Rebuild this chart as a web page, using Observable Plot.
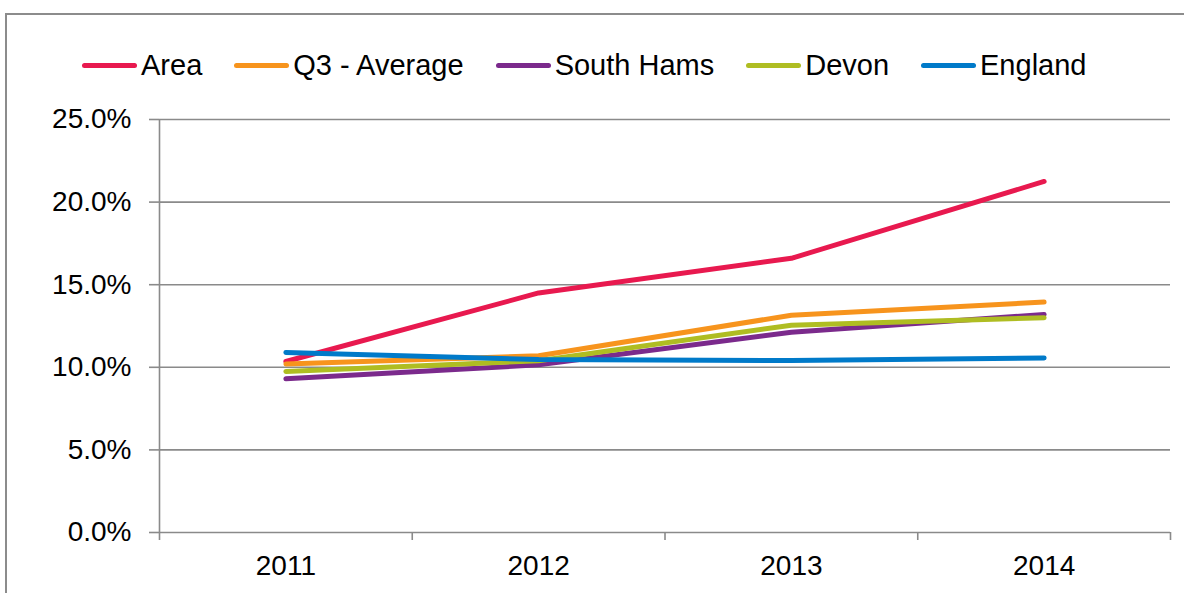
<!DOCTYPE html>
<html>
<head>
<meta charset="utf-8">
<script src="https://cdn.jsdelivr.net/npm/d3@7"></script>
<script src="https://cdn.jsdelivr.net/npm/@observablehq/plot@0.6"></script>
<style>
  html, body { margin: 0; padding: 0; background: #fff; overflow: hidden; }
  body { width: 1184px; height: 593px; position: relative; font-family: "Liberation Sans", Arial, sans-serif; }
  #frame { position: absolute; left: 5px; top: 13px; width: 1400px; height: 800px; border: 2px solid #8c8c8c; box-sizing: border-box; }
  #legend { position: absolute; left: 82px; top: 46px; height: 38px; display: flex; align-items: center; font-size: 29px; color: #000; white-space: nowrap; }
  .item { display: flex; align-items: center; margin-right: 32px; }
  .sw { width: 55px; height: 5px; border-radius: 3px; margin-right: 4px; }
  #chart { position: absolute; left: 0; top: 95px; }
</style>
</head>
<body>
<div id="frame"></div>
<div id="legend"></div>
<div id="chart"></div>
<script>
const years = [2011, 2012, 2013, 2014];
const seriesNames = ["Area", "Q3 - Average", "South Hams", "Devon", "England"];
const seriesColors = ["#E8194F", "#F7941D", "#7B2A8C", "#AFBD22", "#007AC9"];
const area      = [10.35, 14.5, 16.6, 21.25];
const q3Average = [10.2, 10.7, 13.15, 13.95];
const southHams = [9.3, 10.15, 12.12, 13.2];
const devon     = [9.75, 10.4, 12.55, 13.0];
const england   = [10.9, 10.47, 10.41, 10.57];
const yTicks = [0, 5, 10, 15, 20, 25];
const categoryEdges = [2010.5, 2011.5, 2012.5, 2013.5, 2014.5];

const seriesValues = [area, q3Average, southHams, devon, england];
const data = seriesNames.flatMap((name, i) =>
  years.map((year, j) => ({ series: name, year, value: seriesValues[i][j] })));

// Legend (HTML, above the SVG)
const legend = document.getElementById("legend");
seriesNames.forEach((name, i) => {
  const it = document.createElement("div");
  it.className = "item";
  const sw = document.createElement("span");
  sw.className = "sw";
  sw.style.background = seriesColors[i];
  const tx = document.createElement("span");
  tx.textContent = name;
  it.appendChild(sw); it.appendChild(tx);
  legend.appendChild(it);
});

const gridColor = "#8a8a8a";
const chart = Plot.plot({
  width: 1184,
  height: 498,
  marginTop: 24,
  marginBottom: 61,
  marginLeft: 159,
  marginRight: 14,
  style: { fontFamily: "'Liberation Sans', Arial, sans-serif", fontSize: "28px", color: "#000", background: "transparent", overflow: "visible" },
  x: { type: "linear", domain: [categoryEdges[0], categoryEdges[categoryEdges.length - 1]] },
  y: { domain: [0, 25] },
  color: { domain: seriesNames, range: seriesColors },
  marks: [
    Plot.ruleY(yTicks, { stroke: gridColor, strokeWidth: 1.6 }),
    Plot.ruleX([categoryEdges[0]], { stroke: gridColor, strokeWidth: 1.6 }),
    Plot.axisY(yTicks, { tickSize: 10, tickPadding: 18, tickFormat: d => d.toFixed(1) + "%", stroke: gridColor, strokeWidth: 1.6, strokeOpacity: 1, fill: "#000", fontSize: 28, label: null }),
    Plot.axisX(categoryEdges, { tickSize: 8, tickFormat: () => "", stroke: gridColor, strokeWidth: 1.6, strokeOpacity: 1, label: null }),
    Plot.axisX(years, { tickSize: 0, tickPadding: 23, tickFormat: d => String(d), fill: "#000", fontSize: 28, label: null }),
    Plot.line(data, { x: "year", y: "value", z: "series", stroke: "series", strokeWidth: 5, strokeLinecap: "round", strokeLinejoin: "round" })
  ]
});
document.getElementById("chart").appendChild(chart);
</script>
</body>
</html>
